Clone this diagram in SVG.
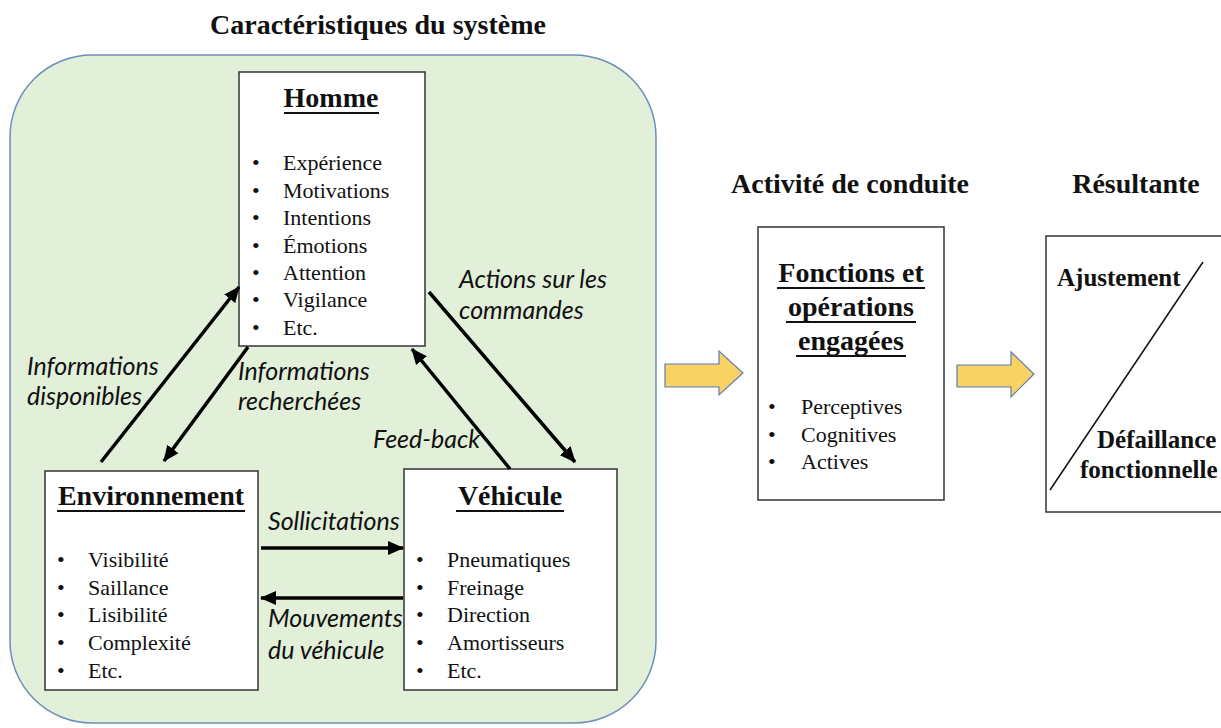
<svg xmlns="http://www.w3.org/2000/svg" width="1221" height="728" viewBox="0 0 1221 728">
<defs>
<marker id="ah" markerUnits="userSpaceOnUse" markerWidth="17" markerHeight="14" refX="15" refY="7" orient="auto">
<path d="M0,0 L16,7 L0,14 Z" fill="#000"/>
</marker>
<style>
.box{fill:#fff;stroke:#333;stroke-width:1.5}
.head{font-family:"Liberation Serif",serif;font-weight:bold;font-size:28px;fill:#111}
.res{font-family:"Liberation Serif",serif;font-weight:bold;font-size:25px;fill:#111}
.ttl{font-family:"Liberation Serif",serif;font-weight:bold;font-size:28px;fill:#111;text-anchor:middle}
.it{font-family:"Liberation Serif",serif;font-size:22px;fill:#111}
.lab{font-family:Lato,"Liberation Sans",sans-serif;font-style:italic;font-size:25px;fill:#111}
.ul{stroke:#111;stroke-width:2}
.con{stroke:#000;stroke-width:3.5;fill:none;marker-end:url(#ah)}
.ya{fill:#f8d262;stroke:#5b7db8;stroke-width:1.2}
</style>
</defs>
<rect width="1221" height="728" fill="#fff"/>
<text class="ttl" x="378" y="34">Caractéristiques du système</text>
<rect x="10" y="55" width="646" height="668" rx="82" ry="82" fill="#e2efd9" stroke="#6d8dbb" stroke-width="1.5"/>
<text class="ttl" x="850" y="193">Activité de conduite</text>
<text class="ttl" x="1136" y="193">Résultante</text>

<g id="homme">
<rect class="box" x="239" y="72" width="186" height="274"/>
<text class="head" x="331" y="107" text-anchor="middle">Homme</text>
<line class="ul" x1="284" y1="113" x2="379" y2="113"/>
<g class="it">
<text x="252" y="170">•</text><text x="283" y="170">Expérience</text>
<text x="252" y="198">•</text><text x="283" y="198">Motivations</text>
<text x="252" y="225">•</text><text x="283" y="225">Intentions</text>
<text x="252" y="253">•</text><text x="283" y="253">Émotions</text>
<text x="252" y="280">•</text><text x="283" y="280">Attention</text>
<text x="252" y="307">•</text><text x="283" y="307">Vigilance</text>
<text x="252" y="335">•</text><text x="283" y="335">Etc.</text>
</g>
</g>

<g id="environnement">
<rect class="box" x="45" y="471" width="213" height="219"/>
<text class="head" x="151" y="505" text-anchor="middle">Environnement</text>
<line class="ul" x1="57" y1="511" x2="245" y2="511"/>
<g class="it">
<text x="57" y="567">•</text><text x="88" y="567">Visibilité</text>
<text x="57" y="595">•</text><text x="88" y="595">Saillance</text>
<text x="57" y="622">•</text><text x="88" y="622">Lisibilité</text>
<text x="57" y="650">•</text><text x="88" y="650">Complexité</text>
<text x="57" y="678">•</text><text x="88" y="678">Etc.</text>
</g>
</g>

<g id="vehicule">
<rect class="box" x="404" y="469" width="213" height="221"/>
<text class="head" x="510" y="505" text-anchor="middle">Véhicule</text>
<line class="ul" x1="456" y1="511" x2="564" y2="511"/>
<g class="it">
<text x="416" y="567">•</text><text x="447" y="567">Pneumatiques</text>
<text x="416" y="595">•</text><text x="447" y="595">Freinage</text>
<text x="416" y="622">•</text><text x="447" y="622">Direction</text>
<text x="416" y="650">•</text><text x="447" y="650">Amortisseurs</text>
<text x="416" y="678">•</text><text x="447" y="678">Etc.</text>
</g>
</g>

<g id="fonctions">
<rect class="box" x="758" y="227" width="186" height="273"/>
<text class="head" x="851" y="282" text-anchor="middle">Fonctions et</text>
<line class="ul" x1="777" y1="288" x2="925" y2="288"/>
<text class="head" x="851" y="316" text-anchor="middle">opérations</text>
<line class="ul" x1="786" y1="322" x2="916" y2="322"/>
<text class="head" x="851" y="350" text-anchor="middle">engagées</text>
<line class="ul" x1="796" y1="356" x2="906" y2="356"/>
<g class="it">
<text x="768" y="414">•</text><text x="801" y="414">Perceptives</text>
<text x="768" y="442">•</text><text x="801" y="442">Cognitives</text>
<text x="768" y="469">•</text><text x="801" y="469">Actives</text>
</g>
</g>

<g id="resultante">
<rect class="box" x="1046" y="236" width="190" height="276"/>
<line x1="1050" y1="490" x2="1203" y2="262" stroke="#111" stroke-width="1.5"/>
<text class="res" x="1057" y="286">Ajustement</text>
<text class="res" x="1097" y="448">Défaillance</text>
<text class="res" x="1080" y="478">fonctionnelle</text>
</g>

<g id="connectors">
<line class="con" x1="101" y1="462" x2="239" y2="287"/>
<line class="con" x1="248" y1="347" x2="164" y2="461"/>
<line class="con" x1="429" y1="292" x2="575" y2="462"/>
<line class="con" x1="510" y1="469" x2="412" y2="349"/>
<line class="con" x1="261" y1="548" x2="403" y2="548"/>
<line class="con" x1="403" y1="598" x2="261" y2="598"/>
<path class="ya" d="M665,364 H719 V351 L743,373 L719,395 V387 H665 Z"/>
<path class="ya" d="M957,365 H1011 V352 L1034,374 L1011,397 V387 H957 Z"/>
</g>

<g id="labels" class="lab">
<text x="27" y="375">Informations</text>
<text x="27" y="405">disponibles</text>
<text x="238" y="380">Informations</text>
<text x="238" y="410">recherchées</text>
<text x="459" y="288">Actions sur les</text>
<text x="459" y="319">commandes</text>
<text x="373" y="448">Feed-back</text>
<text x="268" y="530">Sollicitations</text>
<text x="268" y="627">Mouvements</text>
<text x="268" y="659">du véhicule</text>
</g>
</svg>
